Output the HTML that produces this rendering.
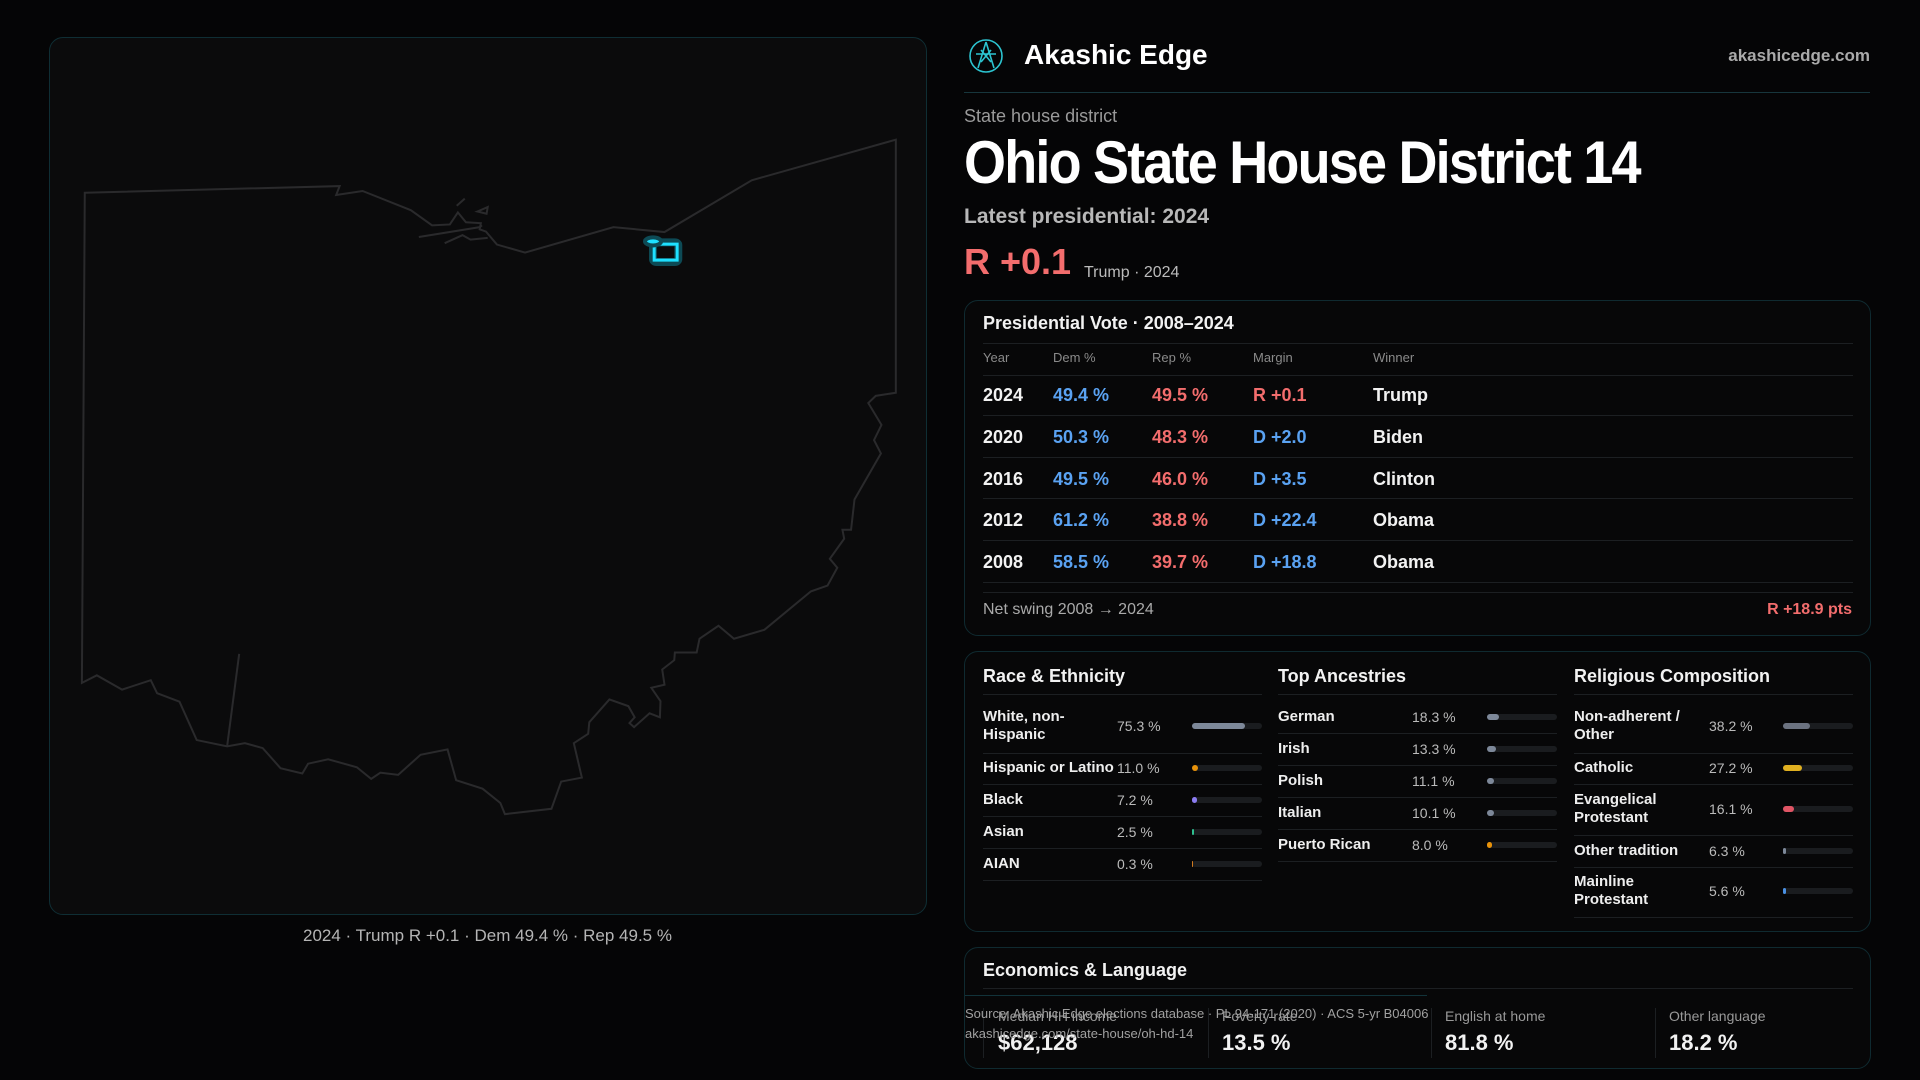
<!DOCTYPE html>
<html><head><meta charset="utf-8"><style>
*{margin:0;padding:0;box-sizing:border-box}
body{width:1920px;height:1080px;background:#050506;font-family:"Liberation Sans",sans-serif;color:#f2f2f2;position:relative;overflow:hidden}
.a{position:absolute;white-space:nowrap}
.card{position:absolute;border:1px solid #0f2a30;border-radius:14px;background:#070708}
.line{position:absolute;height:1px;background:#1c1f22}
.bar{position:absolute;height:6px;border-radius:3px;background:#1a1c1f}
.bar i{display:block;height:6px;border-radius:3px}
.lbl{font-size:15px;font-weight:bold;color:#eee;line-height:18px}
.val{font-size:14px;color:#bbb}
</style></head><body>
<div style="position:absolute;left:49px;top:37px;width:878px;height:878px;border:1px solid #0f2e34;border-radius:14px;background:#0b0b0c"></div>
<svg class="a" style="left:0;top:0" width="960" height="1080">
<g transform="translate(40,120) scale(0.5740,0.4464)" fill="none" stroke="#2a2a2c" stroke-width="2" vector-effect="non-scaling-stroke">
<polygon vector-effect="non-scaling-stroke" points="78,163 522,148 516,168 562,159 646,202 683,236 714,234 728,207 742,229 768,231 766,245 777,250 796,279 845,297 999,240 1088,251 1240,135 1491,44 1491,611 1456,618 1443,634 1466,683 1453,717 1465,747 1419,850 1413,918 1398,918 1401,938 1376,983 1389,1003 1372,1043 1343,1056 1262,1142 1209,1162 1182,1133 1149,1162 1144,1193 1106,1193 1105,1210 1084,1231 1088,1265 1065,1272 1081,1302 1080,1338 1062,1329 1035,1360 1027,1351 1036,1338 1025,1313 992,1298 957,1349 955,1375 930,1396 944,1473 908,1482 891,1543 810,1555 802,1530 771,1498 725,1479 710,1410 663,1422 624,1467 593,1462 577,1476 552,1450 502,1432 467,1442 457,1464 419,1452 388,1407 357,1396 326,1403 273,1389 243,1303 204,1284 193,1255 143,1276 99,1244 73,1261"/>
<polyline vector-effect="non-scaling-stroke" points="326,1403 347,1196"/>
<polyline vector-effect="non-scaling-stroke" points="660,262 766,240 770,236"/>
<polyline vector-effect="non-scaling-stroke" points="705,276 736,258 750,268 780,264"/>
<polygon vector-effect="non-scaling-stroke" points="762,205 780,195 778,210"/>
<polyline vector-effect="non-scaling-stroke" points="728,190 740,176 726,192"/>
</g>
<g transform="translate(40,120) scale(0.5740,0.4464)">
<rect x="1068" y="274" width="44" height="44" rx="6" fill="none" stroke="#0d4a55" stroke-width="8" vector-effect="non-scaling-stroke"/>
<rect x="1070" y="278" width="40" height="36" fill="none" stroke="#1ee0ff" stroke-width="3" vector-effect="non-scaling-stroke"/>
<ellipse cx="1068" cy="272" rx="14" ry="9" fill="#1ee0ff" stroke="#0d4a55" stroke-width="4" vector-effect="non-scaling-stroke"/>
</g>
</svg>
<div class="a" style="left:0;width:975px;text-align:center;top:926px;font-size:17px;color:#b5b5b5">2024 · Trump R +0.1 · Dem 49.4 % · Rep 49.5 %</div>

<svg class="a" style="left:968px;top:38px" width="36" height="36" viewBox="0 0 36 36" fill="none" stroke="#2cc4d0" stroke-width="1.6"><circle cx="18" cy="18" r="16"/><path d="M18 4 L10 30 M18 4 L26 30 M8 16 H28 M13 24 L23 12 M23 24 L13 12"/></svg>
<div class="a" style="left:1024px;top:39px;font-size:28px;font-weight:bold;color:#fff">Akashic Edge</div>
<div class="a" style="right:50px;top:46px;font-size:17px;font-weight:bold;color:#aaa">akashicedge.com</div>
<div class="line" style="left:964px;top:92px;width:906px;background:#17363c"></div>
<div class="a" style="left:964px;top:106px;font-size:18px;color:#9a9a9a">State house district</div>
<div class="a" style="left:964px;top:128px;font-size:60px;font-weight:bold;color:#fff;letter-spacing:-2px;transform:scaleX(0.9);transform-origin:left">Ohio State House District 14</div>
<div class="a" style="left:964px;top:205px;font-size:21px;font-weight:bold;color:#b8b8b8">Latest presidential: 2024</div>
<div class="a" style="left:964px;top:241px;font-size:36px;font-weight:bold;color:#f36d6d">R +0.1</div>
<div class="a" style="left:1084px;top:264px;font-size:16px;color:#bbb">Trump · 2024</div>

<div class="card" style="left:964px;top:300px;width:907px;height:336px"></div>
<div class="a" style="left:983px;top:313px;font-size:18px;font-weight:bold">Presidential Vote · 2008–2024</div>
<div class="line" style="left:983px;top:343px;width:870px"></div>
<div class="a" style="left:983px;top:350px;font-size:13px;color:#8a8a8a">Year</div>
<div class="a" style="left:1053px;top:350px;font-size:13px;color:#8a8a8a">Dem %</div>
<div class="a" style="left:1152px;top:350px;font-size:13px;color:#8a8a8a">Rep %</div>
<div class="a" style="left:1253px;top:350px;font-size:13px;color:#8a8a8a">Margin</div>
<div class="a" style="left:1373px;top:350px;font-size:13px;color:#8a8a8a">Winner</div>
<div class="line" style="left:983px;top:375px;width:870px"></div>
<div style="position:absolute;left:983px;top:374px;width:870px;font-size:18px;font-weight:bold">
<div style="position:relative;height:42px;border-bottom:1px solid #1c1f22"><span class="a" style="left:0;top:11px">2024</span><span class="a" style="left:70px;top:11px;color:#5aa2f2">49.4 %</span><span class="a" style="left:169px;top:11px;color:#f36d6d">49.5 %</span><span class="a" style="left:270px;top:11px;color:#f36d6d">R +0.1</span><span class="a" style="left:390px;top:11px">Trump</span></div>
<div style="position:relative;height:42px;border-bottom:1px solid #1c1f22"><span class="a" style="left:0;top:11px">2020</span><span class="a" style="left:70px;top:11px;color:#5aa2f2">50.3 %</span><span class="a" style="left:169px;top:11px;color:#f36d6d">48.3 %</span><span class="a" style="left:270px;top:11px;color:#5aa2f2">D +2.0</span><span class="a" style="left:390px;top:11px">Biden</span></div>
<div style="position:relative;height:41px;border-bottom:1px solid #1c1f22"><span class="a" style="left:0;top:11px">2016</span><span class="a" style="left:70px;top:11px;color:#5aa2f2">49.5 %</span><span class="a" style="left:169px;top:11px;color:#f36d6d">46.0 %</span><span class="a" style="left:270px;top:11px;color:#5aa2f2">D +3.5</span><span class="a" style="left:390px;top:11px">Clinton</span></div>
<div style="position:relative;height:42px;border-bottom:1px solid #1c1f22"><span class="a" style="left:0;top:11px">2012</span><span class="a" style="left:70px;top:11px;color:#5aa2f2">61.2 %</span><span class="a" style="left:169px;top:11px;color:#f36d6d">38.8 %</span><span class="a" style="left:270px;top:11px;color:#5aa2f2">D +22.4</span><span class="a" style="left:390px;top:11px">Obama</span></div>
<div style="position:relative;height:42px;border-bottom:1px solid #1c1f22"><span class="a" style="left:0;top:11px">2008</span><span class="a" style="left:70px;top:11px;color:#5aa2f2">58.5 %</span><span class="a" style="left:169px;top:11px;color:#f36d6d">39.7 %</span><span class="a" style="left:270px;top:11px;color:#5aa2f2">D +18.8</span><span class="a" style="left:390px;top:11px">Obama</span></div>
</div>
<div class="line" style="left:983px;top:592px;width:870px"></div>
<div class="a" style="left:983px;top:601px;font-size:16px;color:#aaa">Net swing 2008 → 2024</div>
<div class="a" style="right:68px;top:601px;font-size:16px;font-weight:bold;color:#f36d6d">R +18.9 pts</div>

<div class="card" style="left:964px;top:651px;width:907px;height:281px"></div>
<div class="a" style="left:983px;top:666px;font-size:18px;font-weight:bold">Race &amp; Ethnicity</div>
<div class="a" style="left:1278px;top:666px;font-size:18px;font-weight:bold">Top Ancestries</div>
<div class="a" style="left:1574px;top:666px;font-size:18px;font-weight:bold">Religious Composition</div>
<div class="line" style="left:983px;top:694px;width:279px"></div>
<div class="line" style="left:1278px;top:694px;width:279px"></div>
<div class="line" style="left:1574px;top:694px;width:279px"></div>

<div class="a lbl" style="left:983px;top:708px">White, non-<br>Hispanic</div><div class="a val" style="left:1117px;top:718px">75.3 %</div><div class="bar" style="left:1192px;top:723px;width:70px"><i style="width:53px;background:#7d8899"></i></div><div class="line" style="left:983px;top:753px;width:279px"></div>
<div class="a lbl" style="left:983px;top:759px">Hispanic or Latino</div><div class="a val" style="left:1117px;top:760px">11.0 %</div><div class="bar" style="left:1192px;top:765px;width:70px"><i style="width:6px;background:#e8920a"></i></div><div class="line" style="left:983px;top:784px;width:279px"></div>
<div class="a lbl" style="left:983px;top:791px">Black</div><div class="a val" style="left:1117px;top:792px">7.2 %</div><div class="bar" style="left:1192px;top:797px;width:70px"><i style="width:5px;background:#8b7cf0"></i></div><div class="line" style="left:983px;top:816px;width:279px"></div>
<div class="a lbl" style="left:983px;top:823px">Asian</div><div class="a val" style="left:1117px;top:824px">2.5 %</div><div class="bar" style="left:1192px;top:829px;width:70px"><i style="width:2px;background:#2fbf8f"></i></div><div class="line" style="left:983px;top:848px;width:279px"></div>
<div class="a lbl" style="left:983px;top:855px">AIAN</div><div class="a val" style="left:1117px;top:856px">0.3 %</div><div class="bar" style="left:1192px;top:861px;width:70px"><i style="width:1px;background:#d07a20"></i></div><div class="line" style="left:983px;top:880px;width:279px"></div>

<div class="a lbl" style="left:1278px;top:708px">German</div><div class="a val" style="left:1412px;top:709px">18.3 %</div><div class="bar" style="left:1487px;top:714px;width:70px"><i style="width:12px;background:#7d8899"></i></div><div class="line" style="left:1278px;top:733px;width:279px"></div>
<div class="a lbl" style="left:1278px;top:740px">Irish</div><div class="a val" style="left:1412px;top:741px">13.3 %</div><div class="bar" style="left:1487px;top:746px;width:70px"><i style="width:9px;background:#7d8899"></i></div><div class="line" style="left:1278px;top:765px;width:279px"></div>
<div class="a lbl" style="left:1278px;top:772px">Polish</div><div class="a val" style="left:1412px;top:773px">11.1 %</div><div class="bar" style="left:1487px;top:778px;width:70px"><i style="width:7px;background:#7d8899"></i></div><div class="line" style="left:1278px;top:797px;width:279px"></div>
<div class="a lbl" style="left:1278px;top:804px">Italian</div><div class="a val" style="left:1412px;top:805px">10.1 %</div><div class="bar" style="left:1487px;top:810px;width:70px"><i style="width:7px;background:#7d8899"></i></div><div class="line" style="left:1278px;top:829px;width:279px"></div>
<div class="a lbl" style="left:1278px;top:836px">Puerto Rican</div><div class="a val" style="left:1412px;top:837px">8.0 %</div><div class="bar" style="left:1487px;top:842px;width:70px"><i style="width:5px;background:#e8920a"></i></div><div class="line" style="left:1278px;top:861px;width:279px"></div>

<div class="a lbl" style="left:1574px;top:708px">Non-adherent /<br>Other</div><div class="a val" style="left:1709px;top:718px">38.2 %</div><div class="bar" style="left:1783px;top:723px;width:70px"><i style="width:27px;background:#6b7280"></i></div><div class="line" style="left:1574px;top:753px;width:279px"></div>
<div class="a lbl" style="left:1574px;top:759px">Catholic</div><div class="a val" style="left:1709px;top:760px">27.2 %</div><div class="bar" style="left:1783px;top:765px;width:70px"><i style="width:19px;background:#e0b020"></i></div><div class="line" style="left:1574px;top:784px;width:279px"></div>
<div class="a lbl" style="left:1574px;top:791px">Evangelical<br>Protestant</div><div class="a val" style="left:1709px;top:801px">16.1 %</div><div class="bar" style="left:1783px;top:806px;width:70px"><i style="width:11px;background:#e05565"></i></div><div class="line" style="left:1574px;top:835px;width:279px"></div>
<div class="a lbl" style="left:1574px;top:842px">Other tradition</div><div class="a val" style="left:1709px;top:843px">6.3 %</div><div class="bar" style="left:1783px;top:848px;width:70px"><i style="width:3px;background:#7d8899"></i></div><div class="line" style="left:1574px;top:867px;width:279px"></div>
<div class="a lbl" style="left:1574px;top:873px">Mainline<br>Protestant</div><div class="a val" style="left:1709px;top:883px">5.6 %</div><div class="bar" style="left:1783px;top:888px;width:70px"><i style="width:3px;background:#4a90e2"></i></div><div class="line" style="left:1574px;top:917px;width:279px"></div>

<div class="card" style="left:964px;top:947px;width:907px;height:122px"></div>
<div class="a" style="left:983px;top:960px;font-size:18px;font-weight:bold">Economics &amp; Language</div>
<div class="line" style="left:983px;top:988px;width:870px"></div>
<div class="line" style="left:983px;top:1008px;width:1px;height:50px"></div>
<div class="line" style="left:1208px;top:1008px;width:1px;height:50px"></div>
<div class="line" style="left:1431px;top:1008px;width:1px;height:50px"></div>
<div class="line" style="left:1655px;top:1008px;width:1px;height:50px"></div>
<div class="a" style="left:998px;top:1008px;font-size:14px;color:#999">Median HH income</div>
<div class="a" style="left:1222px;top:1008px;font-size:14px;color:#999">Poverty rate</div>
<div class="a" style="left:1445px;top:1008px;font-size:14px;color:#999">English at home</div>
<div class="a" style="left:1669px;top:1008px;font-size:14px;color:#999">Other language</div>
<div class="a" style="left:998px;top:1030px;font-size:22px;font-weight:bold">$62,128</div>
<div class="a" style="left:1222px;top:1030px;font-size:22px;font-weight:bold">13.5 %</div>
<div class="a" style="left:1445px;top:1030px;font-size:22px;font-weight:bold">81.8 %</div>
<div class="a" style="left:1669px;top:1030px;font-size:22px;font-weight:bold">18.2 %</div>
<div class="line" style="left:965px;top:995px;width:462px;background:#12333a"></div>
<div class="a" style="left:965px;top:1006px;font-size:13px;color:#a0a0a0">Source: Akashic Edge elections database · PL 94-171 (2020) · ACS 5-yr B04006</div>
<div class="a" style="left:965px;top:1026px;font-size:13px;color:#a0a0a0">akashicedge.com/state-house/oh-hd-14</div>
</body></html>
